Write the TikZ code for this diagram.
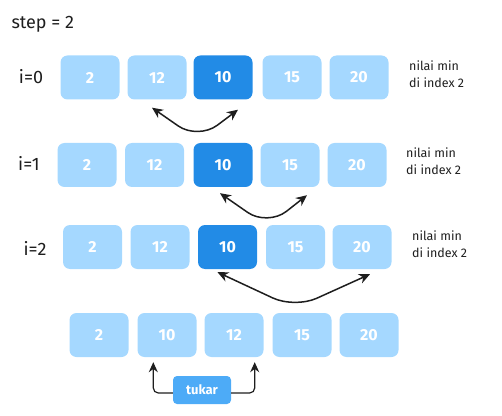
\documentclass[tikz,border=0pt]{standalone}
\usepackage{fontspec}
\setmainfont{Fira Sans}
\usetikzlibrary{arrows.meta,calc}
\definecolor{lightb}{HTML}{A5D8FF}
\definecolor{darkb}{HTML}{228BE6}
\definecolor{midb}{HTML}{4DABF7}
\definecolor{ink}{HTML}{1E1E1E}
\begin{document}
\begin{tikzpicture}[x=1pt,y=1pt,
  cell/.style={fill=lightb, rounded corners=7pt, minimum width=59pt, minimum height=44pt,
    text=white, font=\fontsize{16}{18}\selectfont\bfseries, inner sep=0pt},
  hot/.style={cell, fill=darkb},
  rowlab/.style={font=\fontsize{18}{21}\selectfont, text=ink},
  note/.style={font=\fontsize{12.5}{17}\selectfont, align=left, anchor=west, text=ink, inner sep=0pt},
  swaparrow/.style={line width=1.5pt, draw=ink,
    {Stealth[length=11pt,width=10pt]}-{Stealth[length=11pt,width=10pt]}, rounded corners=24pt},
  uparrow/.style={line width=1.2pt, draw=ink, -{Stealth[length=10pt,width=9pt]}, rounded corners=5pt},
  tag/.style={fill=midb, rounded corners=4pt, minimum width=58pt, minimum height=28pt,
    text=white, font=\fontsize{13}{15}\selectfont\bfseries, inner sep=0pt}]
\useasboundingbox (0,0) rectangle (502,415);

\node[rowlab, anchor=west] (step) at (8,391) {step = 2};

% row i=0
\node[rowlab] (l0) at (31,338) {i=0};
\node[cell] (r0a) at (90,337.5) {2};
\node[cell] (r0b) at (157,337.5) {12};
\node[hot]  (r0c) at (223,337.5) {10};
\node[cell] (r0d) at (292,337.5) {15};
\node[cell] (r0e) at (359,337.5) {20};
\node[note] (n0) at (409,341) {nilai min\\di index 2};
\draw[swaparrow] ([shift={(-5,-8)}]r0b.south)
  -- ($(r0b.south)!0.5!(r0c.south)+(8,-40)$)
  -- ([shift={(15,-10)}]r0c.south);

% row i=1
\node[rowlab] (l1) at (29,252) {i=1};
\node[cell] (r1a) at (87,250) {2};
\node[cell] (r1b) at (154.5,250) {12};
\node[hot]  (r1c) at (223,250) {10};
\node[cell] (r1d) at (290,250) {15};
\node[cell] (r1e) at (357,250) {20};
\node[note] (n1) at (406,254) {nilai min\\di index 2};
\draw[swaparrow] ([shift={(-3,-6)}]r1c.south)
  -- ($(r1c.south)!0.5!(r1d.south)+(11,-39)$)
  -- ([shift={(17,-8)}]r1d.south);

% row i=2
\node[rowlab] (l2) at (35,167) {i=2};
\node[cell] (r2a) at (92.5,168) {2};
\node[cell] (r2b) at (160,168) {12};
\node[hot]  (r2c) at (227.5,168) {10};
\node[cell] (r2d) at (295.5,168) {15};
\node[cell] (r2e) at (362,168) {20};
\node[note] (n2) at (412,171) {nilai min\\di index 2};
\draw[swaparrow] ([shift={(-10,-3)}]r2c.south)
  -- ($(r2c.south)!0.5!(r2e.south)+(0,-39)$)
  -- ([shift={(8,-5)}]r2e.south);

% result row
\node[cell] (r3a) at (99,80) {2};
\node[cell] (r3b) at (167,80) {10};
\node[cell] (r3c) at (234,80) {12};
\node[cell] (r3d) at (302,80) {15};
\node[cell] (r3e) at (369,80) {20};

\node[tag] (tukar) at (202,25) {tukar};
\draw[uparrow] ([yshift=-3]tukar.west) -| ([shift={(16,-5)}]r3b.south west);
\draw[uparrow] ([yshift=-3]tukar.east) -| ([shift={(-9,-5)}]r3c.south east);
\end{tikzpicture}
\end{document}
